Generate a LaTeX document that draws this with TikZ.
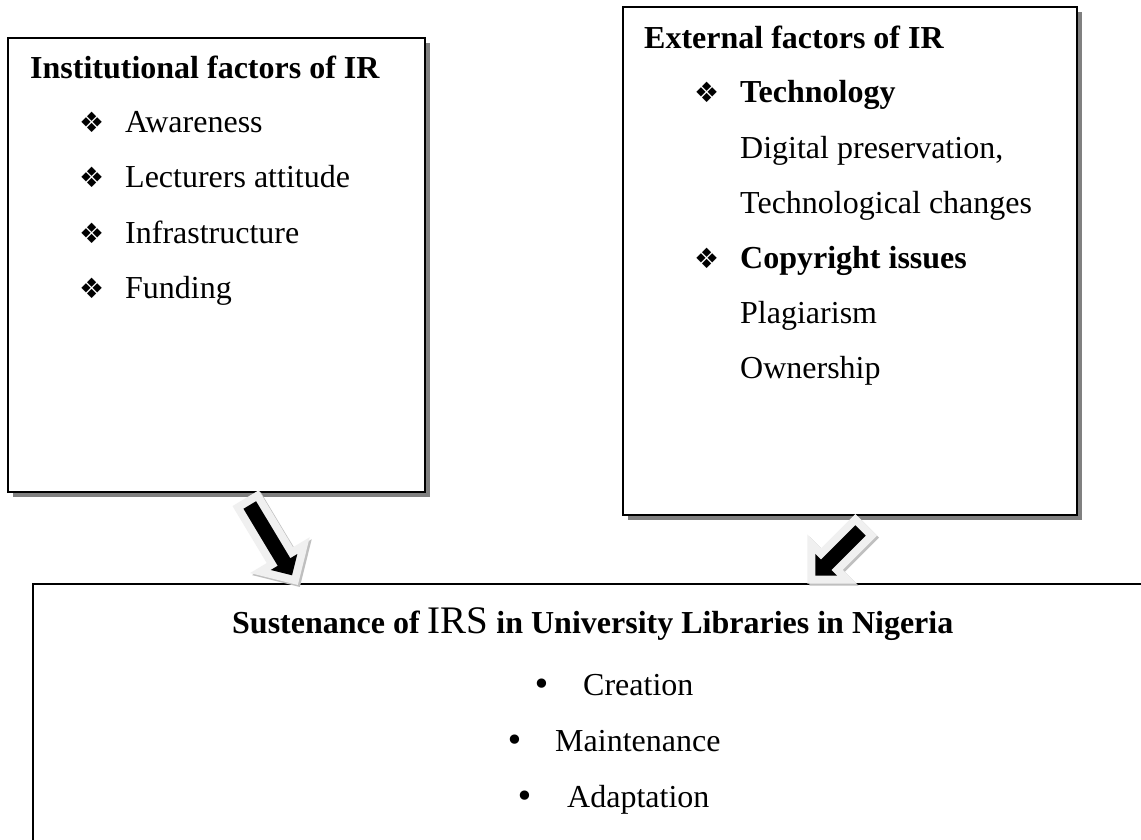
\documentclass[tikz,border=0pt]{standalone}
\usepackage{fontspec}
\setmainfont{Liberation Serif}
\newfontfamily\symfont{DejaVu Sans}
\usetikzlibrary{shapes.arrows,shadows}
\newcommand\txtsize{\fontsize{32}{38}\selectfont}
\tikzset{
  panel/.style={draw, line width=1.5pt, fill=white, inner sep=0,
    drop shadow={shadow xshift=5pt, shadow yshift=-5pt, fill=black!50, opacity=1}},
  title/.style={anchor=base west, inner sep=0, font=\txtsize\bfseries},
  entry/.style={anchor=base west, inner sep=0, font=\txtsize},
  dmd/.style={anchor=base west, inner sep=0, font=\symfont\fontsize{28}{28}\selectfont},
  dot/.style={anchor=base, inner sep=0, font=\symfont\fontsize{32}{32}\selectfont},
  blockarrow/.style={single arrow, fill=black, inner xsep=0, inner ysep=7pt,
    minimum width=31pt, single arrow head extend=8pt,
    preaction={draw=black!25, line width=16pt, transform canvas={shift={(2pt,-2pt)}}},
    preaction={draw=black!6, line width=16pt}}
}
\begin{document}
\begin{tikzpicture}[x=1pt, y=-1pt]
\useasboundingbox (0,0) rectangle (1141,840);
\fill[white] (0,0) rectangle (1141,840);
\clip (0,0) rectangle (1141,840);
\node[panel, minimum width=417pt, minimum height=454pt] (inst) at (216.5,265) {};
\node[panel, minimum width=454pt, minimum height=508pt] (ext) at (850,261) {};
\node[draw, line width=1.5pt, inner sep=0, minimum width=1147pt, minimum height=296pt] (sust) at (606.5,732) {};
\node[title] (ihead) at (30,79) {Institutional factors of IR};
\node[dmd] (id1) at (79,133) {❖};
\node[entry] (i1) at (125,133) {Awareness};
\node[dmd] (id2) at (79,188) {❖};
\node[entry] (i2) at (125,188) {Lecturers attitude};
\node[dmd] (id3) at (79,243) {❖};
\node[entry] (i3) at (125,243) {Infrastructure};
\node[dmd] (id4) at (79,298) {❖};
\node[entry] (i4) at (125,298) {Funding};
\node[title] (ehead) at (644,49) {External factors of IR};
\node[dmd] (ed1) at (694,103) {❖};
\node[title] (e1) at (740,103) {Technology};
\node[entry] (e11) at (740,159) {Digital preservation,};
\node[entry] (e12) at (740,213) {Technological changes};
\node[dmd] (ed2) at (694,268) {❖};
\node[title] (e2) at (740,268) {Copyright issues};
\node[entry] (e21) at (740,323) {Plagiarism};
\node[entry] (e22) at (740,378) {Ownership};
\node[title] (shead) at (232,633) {Sustenance of {\mdseries\fontsize{39}{39}\selectfont IRS} in University Libraries in Nigeria};
\node[dot] (sd1) at (541.5,695) {•};
\node[entry] (s1) at (583,695) {Creation};
\node[dot] (sd2) at (515,751) {•};
\node[entry] (s2) at (555,751) {Maintenance};
\node[dot] (sd3) at (525,807) {•};
\node[entry] (s3) at (567,807) {Adaptation};
\node[blockarrow, minimum height=82pt, rotate=-59] (ia) at (269,537) {};
\node[blockarrow, minimum height=64pt, rotate=-135] (ea) at (840.5,550.5) {};
\end{tikzpicture}
\end{document}
